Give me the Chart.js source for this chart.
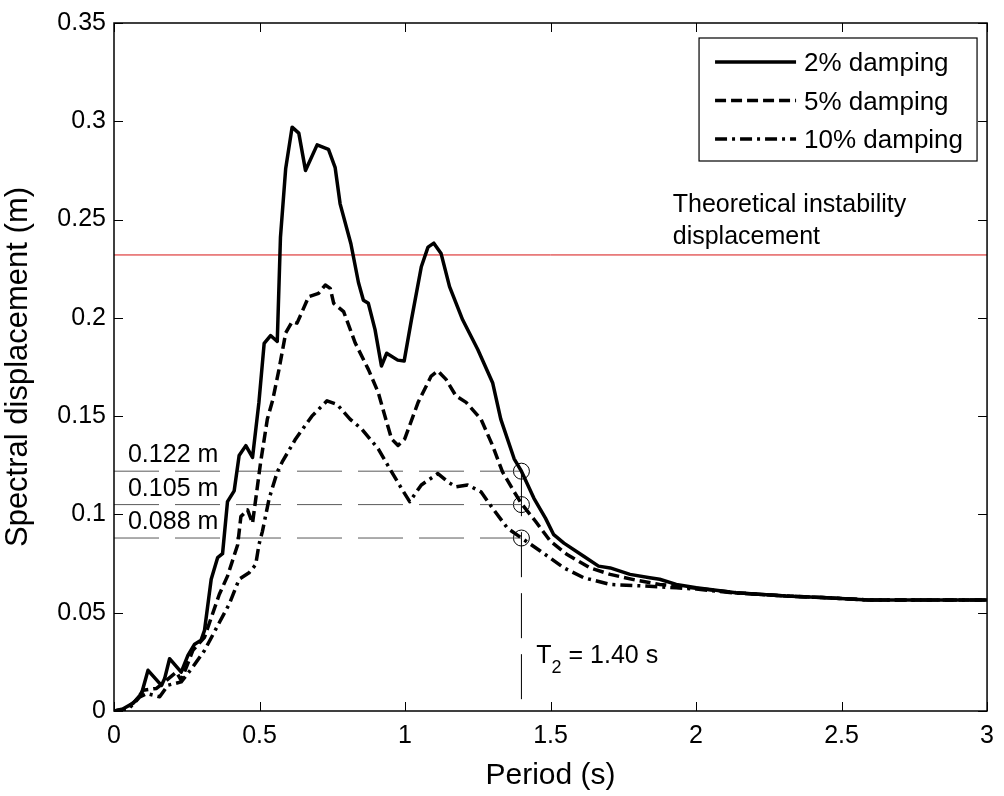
<!DOCTYPE html>
<html>
<head>
<meta charset="utf-8">
<script src="https://cdn.jsdelivr.net/npm/chart.js@4/dist/chart.umd.min.js"></script>
<style>
  html, body { margin: 0; padding: 0; background: #fff; }
  canvas { display: block; }
</style>
</head>
<body>
<canvas id="chart" width="1004" height="796"></canvas>
<script>
const FONT = "'Liberation Sans', Arial, Helvetica, sans-serif";

// Spectral displacement, one period list per curve.
const period2 = [0, 0.03, 0.066, 0.095, 0.117, 0.163, 0.174, 0.191, 0.231, 0.254, 0.277, 0.299, 0.311, 0.334, 0.356, 0.373, 0.39, 0.413, 0.43, 0.453, 0.476, 0.498, 0.516, 0.538, 0.561, 0.572, 0.59, 0.612, 0.635, 0.658, 0.698, 0.737, 0.76, 0.777, 0.814, 0.84, 0.857, 0.874, 0.897, 0.919, 0.937, 0.975, 0.997, 1.022, 1.056, 1.079, 1.099, 1.124, 1.153, 1.198, 1.25, 1.301, 1.329, 1.375, 1.4, 1.443, 1.483, 1.511, 1.546, 1.614, 1.665, 1.705, 1.773, 1.841, 1.875, 1.932, 2.001, 2.137, 2.308, 2.433, 2.592, 3.0];
const disp2 = [0, 0.001, 0.004, 0.009, 0.0207, 0.013, 0.0165, 0.0266, 0.0198, 0.0283, 0.034, 0.036, 0.041, 0.067, 0.078, 0.08, 0.1065, 0.112, 0.13, 0.135, 0.129, 0.157, 0.187, 0.191, 0.188, 0.241, 0.276, 0.297, 0.294, 0.275, 0.288, 0.2857, 0.2764, 0.258, 0.2377, 0.218, 0.209, 0.2074, 0.194, 0.1755, 0.182, 0.1785, 0.178, 0.199, 0.226, 0.236, 0.238, 0.2327, 0.2159, 0.199, 0.1839, 0.167, 0.1485, 0.1283, 0.122, 0.1082, 0.098, 0.0897, 0.0854, 0.0787, 0.0737, 0.0728, 0.0695, 0.0678, 0.067, 0.0644, 0.0627, 0.0602, 0.0585, 0.0577, 0.0565, 0.0565];

const period5 = [0, 0.04, 0.077, 0.1, 0.146, 0.174, 0.214, 0.231, 0.271, 0.311, 0.362, 0.39, 0.425, 0.436, 0.459, 0.476, 0.504, 0.527, 0.545, 0.567, 0.59, 0.612, 0.629, 0.669, 0.703, 0.726, 0.743, 0.755, 0.789, 0.829, 0.874, 0.908, 0.937, 0.954, 0.976, 0.999, 1.045, 1.09, 1.113, 1.141, 1.175, 1.21, 1.261, 1.301, 1.335, 1.375, 1.4, 1.449, 1.5, 1.557, 1.636, 1.705, 1.796, 1.875, 1.932, 2.001, 2.137, 2.308, 2.433, 2.592, 3.0];
const disp5 = [0, 0.001, 0.0055, 0.0106, 0.0115, 0.0148, 0.0198, 0.0156, 0.0308, 0.0375, 0.0594, 0.0686, 0.0846, 0.0989, 0.1023, 0.0955, 0.1267, 0.1485, 0.158, 0.1738, 0.1923, 0.198, 0.1973, 0.2108, 0.2125, 0.2167, 0.215, 0.2074, 0.2032, 0.1872, 0.1738, 0.162, 0.1469, 0.1384, 0.1351, 0.1384, 0.157, 0.1704, 0.173, 0.1687, 0.1603, 0.157, 0.1485, 0.135, 0.1216, 0.1115, 0.1055, 0.0964, 0.0863, 0.0796, 0.0728, 0.0695, 0.0665, 0.0644, 0.0636, 0.0625, 0.0602, 0.0585, 0.0577, 0.0565, 0.0565];

const period10 = [0, 0.05, 0.089, 0.112, 0.157, 0.185, 0.231, 0.271, 0.311, 0.362, 0.396, 0.43, 0.464, 0.487, 0.498, 0.51, 0.533, 0.561, 0.578, 0.624, 0.68, 0.732, 0.766, 0.811, 0.851, 0.908, 0.954, 0.988, 1.016, 1.056, 1.113, 1.147, 1.175, 1.215, 1.261, 1.301, 1.352, 1.4, 1.466, 1.546, 1.614, 1.705, 1.819, 1.932, 2.001, 2.137, 2.308, 2.433, 2.592, 3.0];
const disp10 = [0, 0.001, 0.0072, 0.0089, 0.0072, 0.0131, 0.0148, 0.0224, 0.0308, 0.045, 0.0544, 0.067, 0.0703, 0.0745, 0.0846, 0.0914, 0.108, 0.1216, 0.1267, 0.1384, 0.15, 0.1578, 0.156, 0.1485, 0.1435, 0.1334, 0.1216, 0.1132, 0.1065, 0.115, 0.1208, 0.1166, 0.114, 0.115, 0.1115, 0.1031, 0.093, 0.088, 0.0813, 0.0728, 0.0678, 0.0644, 0.0636, 0.0627, 0.062, 0.06, 0.0585, 0.0577, 0.0565, 0.0565];

const seriesLabels = ["2% damping", "5% damping", "10% damping"];

// Reference values marked on the plot
const instability = 0.232;
const t2 = 1.40;
const refLevels = [0.122, 0.105, 0.088];
const refLabels = ["0.122 m", "0.105 m", "0.088 m"];

const xTickValues = [0, 0.5, 1, 1.5, 2, 2.5, 3];
const xTickLabels = ["0", "0.5", "1", "1.5", "2", "2.5", "3"];
const yTickValues = [0, 0.05, 0.1, 0.15, 0.2, 0.25, 0.3, 0.35];
const yTickLabels = ["0", "0.05", "0.1", "0.15", "0.2", "0.25", "0.3", "0.35"];

const zip = (xs, ys) => xs.map((x, i) => ({ x, y: ys[i] }));

const curve = (label, xs, ys, dash) => ({
  label,
  data: zip(xs, ys),
  showLine: true,
  borderColor: "#000",
  borderWidth: 3.5,
  borderDash: dash,
  borderJoinStyle: "round",
  pointRadius: 0,
  fill: false,
});

const refLine = (points, color, dash) => ({
  label: "",
  data: points,
  showLine: true,
  borderColor: color,
  borderWidth: 1,
  borderDash: dash,
  pointRadius: 0,
  fill: false,
});

// MATLAB-style box with ticks pointing inwards on all four sides.
const frame = {
  id: "frame",
  afterDraw(chart) {
    const { ctx, chartArea: a, scales } = chart;
    ctx.save();
    ctx.strokeStyle = "#000";
    ctx.lineWidth = 1.5;
    ctx.strokeRect(a.left, a.top, a.right - a.left, a.bottom - a.top);
    ctx.lineWidth = 1;
    ctx.beginPath();
    for (const v of xTickValues) {
      const px = Math.round(scales.x.getPixelForValue(v)) + 0.5;
      ctx.moveTo(px, a.bottom); ctx.lineTo(px, a.bottom - 9);
      ctx.moveTo(px, a.top); ctx.lineTo(px, a.top + 9);
    }
    for (const v of yTickValues) {
      const py = Math.round(scales.y.getPixelForValue(v)) + 0.5;
      ctx.moveTo(a.left, py); ctx.lineTo(a.left + 9, py);
      ctx.moveTo(a.right, py); ctx.lineTo(a.right - 9, py);
    }
    ctx.stroke();
    ctx.restore();
  },
};

// Text annotations placed through the scales.
const notes = {
  id: "notes",
  afterDatasetsDraw(chart) {
    const { ctx, scales: { x, y } } = chart;
    ctx.save();
    ctx.fillStyle = "#000";
    ctx.textBaseline = "alphabetic";
    ctx.textAlign = "left";
    ctx.font = `25px ${FONT}`;
    refLevels.forEach((lvl, i) => {
      ctx.fillText(refLabels[i], x.getPixelForValue(0.048), y.getPixelForValue(lvl) - 9);
    });

    const yi = y.getPixelForValue(instability);
    const xi = x.getPixelForValue(1.92);
    ctx.fillText("Theoretical instability", xi, yi - 43);
    ctx.fillText("displacement", xi, yi - 11);

    const xt = x.getPixelForValue(1.451);
    const yt = y.getPixelForValue(0.0244);
    ctx.fillText("T", xt, yt);
    const wT = ctx.measureText("T").width;
    ctx.font = `18px ${FONT}`;
    ctx.fillText("2", xt + wT, yt + 10);
    const w2 = ctx.measureText("2").width;
    ctx.font = `25px ${FONT}`;
    ctx.fillText(" = 1.40 s", xt + wT + w2, yt);
    ctx.restore();
  },
};

// Boxed legend in the upper right corner of the axes.
const legendBox = {
  id: "legendBox",
  afterDraw(chart) {
    const { ctx, chartArea: a } = chart;
    const left = a.right - 288;
    const top = a.top + 15;
    const w = 278;
    const h = 123;
    ctx.save();
    ctx.fillStyle = "#fff";
    ctx.fillRect(left, top, w, h);
    ctx.strokeStyle = "#000";
    ctx.lineWidth = 1.2;
    ctx.strokeRect(left, top, w, h);
    ctx.font = `26px ${FONT}`;
    ctx.textBaseline = "middle";
    ctx.fillStyle = "#000";
    seriesLabels.forEach((label, i) => {
      const ds = chart.data.datasets[i];
      const rowY = top + 24 + i * 38.5;
      ctx.beginPath();
      ctx.setLineDash(ds.borderDash || []);
      ctx.lineWidth = ds.borderWidth;
      ctx.moveTo(left + 16, rowY);
      ctx.lineTo(left + 97, rowY);
      ctx.stroke();
      ctx.setLineDash([]);
      ctx.fillText(label, left + 105, rowY + 2);
    });
    ctx.restore();
  },
};

new Chart(document.getElementById("chart"), {
  type: "scatter",
  plugins: [frame, notes, legendBox],
  data: {
    datasets: [
      curve(seriesLabels[0], period2, disp2, []),
      curve(seriesLabels[1], period5, disp5, [11, 5]),
      curve(seriesLabels[2], period10, disp10, [12, 5, 3, 5]),
      refLine([{ x: 0, y: instability }, { x: 3, y: instability }], "rgb(215,20,20)", []),
      ...refLevels.map((lvl) =>
        refLine([{ x: 0, y: lvl }, { x: t2, y: lvl }], "rgb(90,90,90)", [45, 16])),
      refLine([{ x: t2, y: refLevels[0] }, { x: t2, y: 0 }], "#000", [45, 16]),
      {
        label: "",
        data: refLevels.map((lvl) => ({ x: t2, y: lvl })),
        showLine: false,
        pointStyle: "circle",
        pointRadius: 8,
        pointBorderWidth: 1,
        pointBorderColor: "#000",
        pointBackgroundColor: "rgba(0,0,0,0)",
      },
    ],
  },
  options: {
    responsive: false,
    devicePixelRatio: 1,
    animation: false,
    events: [],
    layout: {
      padding: { top: 18, right: 11, left: 0, bottom: 0 },
    },
    plugins: {
      legend: { display: false },
      tooltip: { enabled: false },
    },
    scales: {
      x: {
        type: "linear",
        min: 0,
        max: 3,
        afterFit: (s) => { s.height = 85; },
        afterBuildTicks: (s) => { s.ticks = xTickValues.map((v) => ({ value: v })); },
        grid: { display: false, drawTicks: false },
        border: { display: false },
        ticks: {
          color: "#000",
          font: { family: FONT, size: 25 },
          padding: 10,
          maxRotation: 0,
          callback: (v, i) => xTickLabels[i],
        },
        title: {
          display: true,
          text: "Period (s)",
          color: "#000",
          font: { family: FONT, size: 30 },
          padding: { top: 4, bottom: 2 },
        },
      },
      y: {
        type: "linear",
        min: 0,
        max: 0.35,
        afterFit: (s) => { s.width = 114; },
        afterBuildTicks: (s) => { s.ticks = yTickValues.map((v) => ({ value: v })); },
        grid: { display: false, drawTicks: false },
        border: { display: false },
        ticks: {
          color: "#000",
          font: { family: FONT, size: 25 },
          padding: 8,
          callback: (v, i) => yTickLabels[i],
        },
        title: {
          display: true,
          text: "Spectral displacement (m)",
          color: "#000",
          font: { family: FONT, size: 31 },
          padding: { top: 0, bottom: 4 },
        },
      },
    },
  },
});
</script>
</body>
</html>
